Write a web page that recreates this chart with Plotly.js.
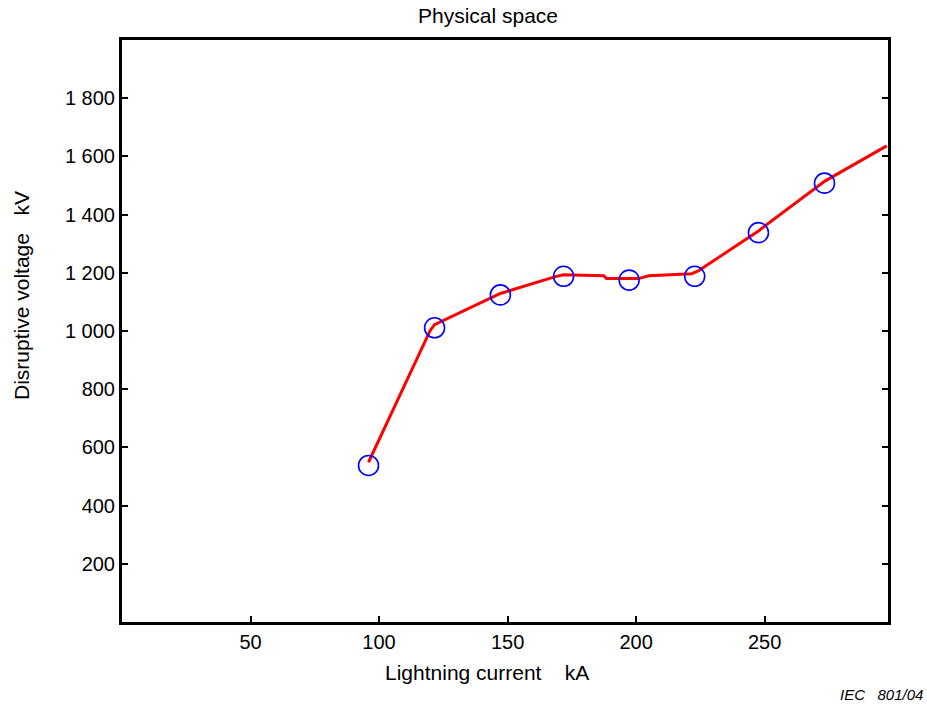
<!DOCTYPE html>
<html>
<head>
<meta charset="utf-8">
<script src="https://cdn.plot.ly/plotly-3.0.1.min.js"></script>
<style>html,body{margin:0;padding:0;background:#fff;}#chart{width:927px;height:706px;}</style>
</head>
<body>
<div id="chart"></div>
<script>
// Measured points (blue circles)
const pointCurrent = [95.9, 121.6, 147.2, 171.8, 197.3, 222.8, 247.6, 273.3];
const pointVoltage = [538, 1011, 1124, 1188, 1175, 1188, 1338, 1508];
// Fitted curve (red line)
const curveCurrent = [95.9, 119.9, 121.6, 142.6, 147.2, 168.6, 171.8, 187.4, 188.5, 201, 204.9, 213.4, 221.6, 224.3, 247.6, 273.6, 297.5];
const curveVoltage = [549, 1002, 1022, 1111, 1129, 1187, 1193, 1190, 1180, 1180, 1190, 1193, 1197, 1207, 1344, 1516, 1636];
// Tick labels
const xTickVals = [50, 100, 150, 200, 250];
const xTickText = ["50", "100", "150", "200", "250"];
const yTickVals = [200, 400, 600, 800, 1000, 1200, 1400, 1600, 1800];
const yTickText = ["200", "400", "600", "800", "1 000", "1 200", "1 400", "1 600", "1 800"];

const FONT = "Liberation Sans, Arial, sans-serif";

const traces = [
  {
    x: curveCurrent, y: curveVoltage, type: "scatter", mode: "lines",
    line: {color: "#ff0000", width: 3}, hoverinfo: "skip", showlegend: false
  },
  {
    x: pointCurrent, y: pointVoltage, type: "scatter", mode: "markers",
    marker: {symbol: "circle-open", size: 20, color: "#0000ff", line: {width: 1.6, color: "#0000ff"}},
    showlegend: false
  }
];

const layout = {
  width: 927, height: 706,
  margin: {l: 122, r: 39, t: 40, b: 84},
  paper_bgcolor: "#fff", plot_bgcolor: "#fff",
  font: {family: FONT, size: 20, color: "#000"},
  showlegend: false,
  title: {text: "Physical space", font: {family: FONT, size: 21, color: "#000"},
          x: 488 / 927, xref: "container", xanchor: "center", y: 1 - 16/706, yref: "container", yanchor: "middle"},
  xaxis: {
    range: [0, 298], tickvals: xTickVals, ticktext: xTickText,
    ticks: "inside", ticklen: 6, tickwidth: 2, tickcolor: "#000",
    showline: true, linewidth: 3, linecolor: "#000", mirror: true,
    showgrid: false, zeroline: false, fixedrange: true,
    tickfont: {family: FONT, size: 20, color: "#000"}
  },
  yaxis: {
    range: [0, 2000], tickvals: yTickVals, ticktext: yTickText,
    ticks: "inside", ticklen: 6, tickwidth: 2, tickcolor: "#000",
    showline: true, linewidth: 3, linecolor: "#000", mirror: "ticks",
    showgrid: false, zeroline: false, fixedrange: true,
    tickfont: {family: FONT, size: 20, color: "#000"}
  },
  annotations: [
    {text: "Lightning current&nbsp;&nbsp;&nbsp; kA", xref: "paper", yref: "paper",
     x: (487 - 122) / 766, y: -(672 - 622) / 582, xanchor: "center", yanchor: "middle",
     showarrow: false, font: {family: FONT, size: 21, color: "#000"}},
    {text: "Disruptive voltage&nbsp;&nbsp; kV", xref: "paper", yref: "paper",
     x: -(122 - 21) / 766, y: (622 - 296) / 582, xanchor: "center", yanchor: "middle",
     textangle: -90, showarrow: false, font: {family: FONT, size: 21, color: "#000"}},
    {text: "<i>IEC&nbsp;&nbsp; 801/04</i>", xref: "paper", yref: "paper",
     x: (925 - 122) / 766, y: -(694 - 622) / 582, xanchor: "right", yanchor: "middle",
     showarrow: false, font: {family: FONT, size: 15, color: "#000"}}
  ]
};

Plotly.newPlot("chart", traces, layout, {displayModeBar: false, staticPlot: true});
</script>
</body>
</html>
